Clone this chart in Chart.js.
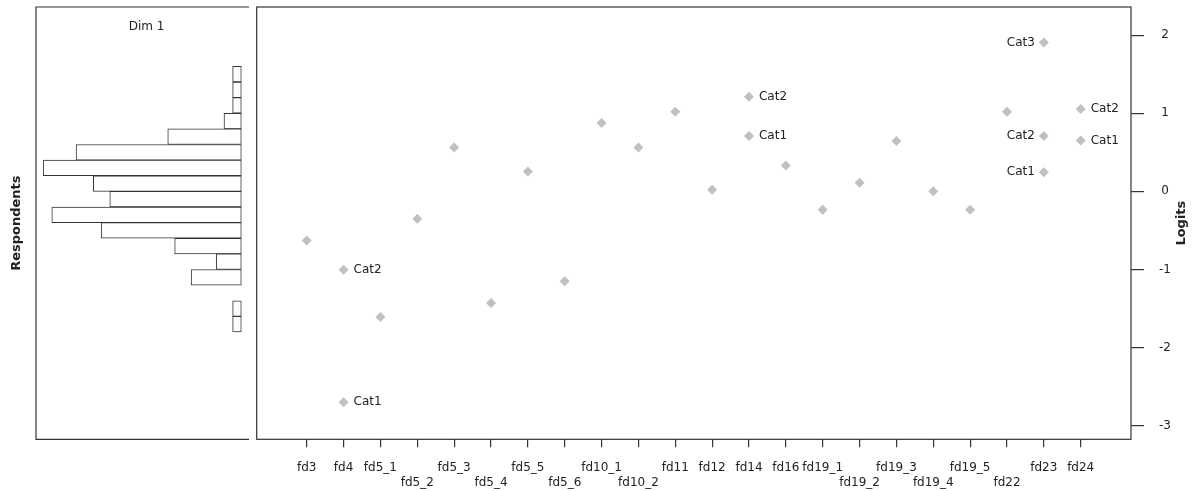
<!DOCTYPE html>
<html>
<head>
<meta charset="utf-8">
<title>Wright map</title>
<script src="https://cdn.jsdelivr.net/npm/chart.js@4"></script>
<style>
  body { margin: 0; background: #fff; }
  #wrap { position: relative; width: 1195px; height: 491px; }
  #histCanvas { position: absolute; left: 0; top: 0; }
  #mapCanvas { position: absolute; left: 250px; top: 0; }
</style>
</head>
<body>
<div id="wrap">
  <canvas id="histCanvas" width="250" height="491"></canvas>
  <canvas id="mapCanvas" width="945" height="491"></canvas>
</div>
<script>
// items along the bottom and their thresholds (logits)
const items = ['fd3', 'fd4', 'fd5_1', 'fd5_2', 'fd5_3', 'fd5_4', 'fd5_5', 'fd5_6', 'fd10_1', 'fd10_2', 'fd11',
  'fd12', 'fd14', 'fd16', 'fd19_1', 'fd19_2', 'fd19_3', 'fd19_4', 'fd19_5', 'fd22', 'fd23', 'fd24'];
const thresh1 = [-0.63, -2.70, -1.61, -0.35, 0.56, -1.43, 0.255, -1.15, 0.876, 0.56, 1.02,
  0.02, 0.71, 0.33, -0.235, 0.11, 0.646, 0.0, -0.235, 1.02, 0.246, 0.651];
const thresh2 = [null, -1.005, null, null, null, null, null, null, null, null, null,
  null, 1.21, null, null, null, null, null, null, null, 0.71, 1.055];
const thresh3 = [null, null, null, null, null, null, null, null, null, null, null,
  null, null, null, null, null, null, null, null, null, 1.907, null];
const catNames = ['Cat1', 'Cat2', 'Cat3'];
// which row the item label sits on (R staggers overlapping labels)
const labelRow = [1, 1, 1, 2, 1, 2, 1, 2, 1, 2, 1, 1, 1, 1, 1, 2, 1, 2, 1, 2, 1, 1];
const leftLabelItems = ['fd23'];

// respondent distribution, Dim 1 (bins of 0.2 logits)
const binMid = [1.5, 1.3, 1.1, 0.9, 0.7, 0.5, 0.3, 0.1, -0.1, -0.3, -0.5, -0.7, -0.9, -1.1, -1.3, -1.5, -1.7];
const respondents = [1, 1, 1, 2, 8.5, 19.1, 22.9, 17.1, 15.2, 21.9, 16.2, 7.7, 2.9, 5.8, null, 1, 1];

const yTicks = [2, 1, 0, -1, -2, -3];
const yMin = -3.174, yMax = 2.36;

const FONT = '"DejaVu Sans", sans-serif';
const INK = '#222';
const FRAME = '#333';

// left panel: open box + "Dim 1"
const histDecor = {
  id: 'histDecor',
  afterDraw(chart) {
    const { ctx, chartArea: a } = chart;
    ctx.save();
    ctx.strokeStyle = FRAME;
    ctx.lineWidth = 1.2;
    ctx.beginPath();
    ctx.moveTo(a.right, a.top);
    ctx.lineTo(a.left, a.top);
    ctx.lineTo(a.left, a.bottom);
    ctx.lineTo(a.right, a.bottom);
    ctx.stroke();
    ctx.font = '12px ' + FONT;
    ctx.fillStyle = INK;
    ctx.textAlign = 'center';
    ctx.textBaseline = 'middle';
    ctx.fillText('Dim 1', (a.left + a.right) / 2 + 4, a.top + 20);
    ctx.restore();
  }
};

// main panel: box, category labels next to points, right-hand axis title
const mapDecor = {
  id: 'mapDecor',
  afterDraw(chart) {
    const { ctx, chartArea: a } = chart;
    ctx.save();
    ctx.strokeStyle = FRAME;
    ctx.lineWidth = 1.2;
    ctx.strokeRect(a.left, a.top, a.right - a.left, a.bottom - a.top);

    ctx.font = '12px ' + FONT;
    ctx.fillStyle = INK;
    ctx.textBaseline = 'middle';
    chart.data.datasets.forEach((ds, di) => {
      chart.getDatasetMeta(di).data.forEach((pt, j) => {
        const i = ds.data[j].x;
        if (thresh2[i] == null) return;
        if (leftLabelItems.includes(items[i])) {
          ctx.textAlign = 'right';
          ctx.fillText(ds.label, pt.x - 9, pt.y);
        } else {
          ctx.textAlign = 'left';
          ctx.fillText(ds.label, pt.x + 10, pt.y);
        }
      });
    });

    ctx.translate(a.right + 51, (a.top + a.bottom) / 2);
    ctx.rotate(-Math.PI / 2);
    ctx.font = 'bold 13px ' + FONT;
    ctx.textAlign = 'center';
    ctx.fillText('Logits', 0, 0);
    ctx.restore();
  }
};

new Chart(document.getElementById('histCanvas'), {
  type: 'bar',
  data: {
    datasets: [{
      data: binMid.map((m, i) => ({ x: respondents[i], y: m })),
      backgroundColor: '#fff',
      borderColor: FRAME,
      borderWidth: 1,
      borderSkipped: false,
      barPercentage: 1,
      categoryPercentage: 1
    }]
  },
  options: {
    indexAxis: 'y',
    responsive: false,
    animation: false,
    layout: { padding: { top: 7, right: 1, bottom: 51.7, left: 0 } },
    plugins: { legend: { display: false }, tooltip: { enabled: false } },
    scales: {
      x: { type: 'linear', reverse: true, min: -0.89, max: 23.73, display: false },
      y: {
        type: 'linear', min: yMin, max: yMax, offset: false,
        grid: { display: false }, border: { display: false },
        ticks: { display: false },
        title: { display: true, text: 'Respondents', color: INK, padding: { top: 9, bottom: 0 },
          font: { family: FONT, size: 13, weight: 'bold' } },
        afterFit(s) { s.width = 36; s.paddingTop = 0; s.paddingBottom = 0; }
      }
    }
  },
  plugins: [histDecor]
});

const pointSets = [thresh1, thresh2, thresh3].map((arr, k) => ({
  label: catNames[k],
  data: arr.map((v, i) => ({ x: i, y: v })).filter(p => p.y != null),
  pointStyle: 'rectRot',
  pointRadius: 5,
  pointBackgroundColor: '#c0c0c0',
  pointBorderWidth: 0,
  showLine: false
}));

new Chart(document.getElementById('mapCanvas'), {
  type: 'scatter',
  data: { datasets: pointSets },
  options: {
    responsive: false,
    animation: false,
    layout: { padding: { top: 7, right: 0, bottom: 0, left: 6.7 } },
    plugins: { legend: { display: false }, tooltip: { enabled: false } },
    scales: {
      x: {
        type: 'linear', min: -1.357, max: 22.365,
        afterBuildTicks(s) { s.ticks = items.map((_, i) => ({ value: i })); },
        grid: { drawOnChartArea: false, tickLength: 8, color: FRAME, lineWidth: 1.2 },
        border: { display: false },
        ticks: {
          autoSkip: false, maxRotation: 0, padding: 13.2, color: INK,
          font: { family: FONT, size: 12, lineHeight: 1.25 },
          callback: (v) => labelRow[v] === 2 ? ['', items[v]] : items[v]
        },
        afterFit(s) { s.height = 491 - 439.3; s.paddingLeft = 0; s.paddingRight = 0; }
      },
      y: {
        type: 'linear', position: 'right', min: yMin, max: yMax,
        afterBuildTicks(s) { s.ticks = yTicks.map(v => ({ value: v })); },
        grid: { drawOnChartArea: false, tickLength: 13, color: FRAME, lineWidth: 1.2 },
        border: { display: false },
        ticks: {
          padding: 15, crossAlign: 'center', color: INK,
          font: { family: FONT, size: 12 },
          callback: (v) => String(v)
        },
        afterFit(s) { s.width = 64; s.paddingTop = 0; s.paddingBottom = 0; }
      }
    }
  },
  plugins: [mapDecor]
});
</script>
</body>
</html>
